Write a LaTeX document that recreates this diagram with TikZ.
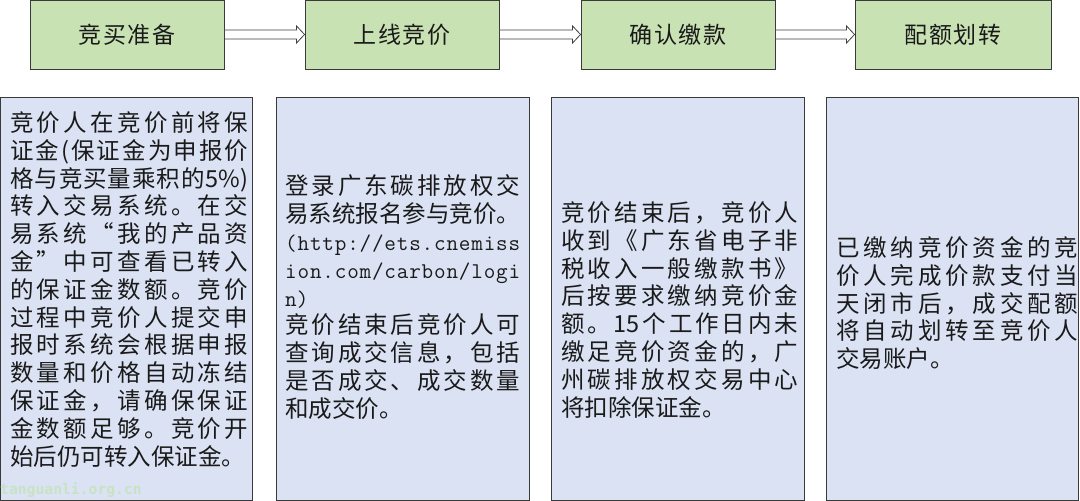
\documentclass[tikz,border=0pt]{standalone}
\usepackage{fontspec}
\setmainfont{Noto Sans CJK SC}
\newfontfamily\cjkT[LetterSpace=8]{Noto Sans CJK SC}
\newfontfamily\wmfont{DejaVu Sans Mono}
\usetikzlibrary{calc}
\definecolor{greenc}{HTML}{C9E2B4}
\definecolor{bluec}{HTML}{DAE2F3}
\definecolor{bordc}{HTML}{3A3A3A}
\definecolor{arrc}{HTML}{404040}
\definecolor{txtc}{HTML}{1A1A1A}
\definecolor{wmc}{HTML}{C8E2C4}
\newskip\spreadskip \spreadskip=0pt plus 1fil minus 1fil
\def\spreadfirst#1{#1\spreadrest}
\def\spreadrest#1{\ifx\relax#1\else\hskip\spreadskip #1\expandafter\spreadrest\fi}
\def\fl#1#2{\hbox to #1{\expandafter\spreadfirst#2\relax}}
\newcommand\blockarr[2]{%
  \draw[blockarrow] ($(#1.east)+(0,-4.5)$) -- ($(#2.west)+(-8,-4.5)$)
    -- ($(#2.west)+(-8,-8.5)$) -- (#2.west) -- ($(#2.west)+(-8,8.5)$)
    -- ($(#2.west)+(-8,4.5)$) -- ($(#1.east)+(0,4.5)$) -- cycle;}
\tikzset{
  titlebox/.style={draw=bordc, fill=greenc, line width=0.9pt, minimum width=194pt,
    minimum height=69pt, inner sep=0pt, text=txtc, font=\cjkT\fontsize{23}{26}\selectfont},
  panel/.style={draw=bordc, fill=bluec, line width=0.9pt, minimum height=403pt, inner sep=0pt},
  txtline/.style={anchor=base west, inner sep=0pt, text=txtc, font=\fontsize{23.5}{27.8}\selectfont},
  fU/.style={font=\ttfamily\fontsize{22.5}{27.8}\selectfont},
  blockarrow/.style={draw=arrc, fill=white, line width=0.8pt, line join=miter}
}
\begin{document}
\begin{tikzpicture}[x=1pt,y=1pt]
\useasboundingbox (0,0) rectangle (1080,501);
\fill[white] (0,0) rectangle (1080,501);
% title boxes
\node[titlebox] (t1) at (127,466.5) {竞买准备};
\node[titlebox] (t2) at (402,466.5) {上线竞价};
\node[titlebox] (t3) at (678,466.5) {确认缴款};
\node[titlebox, minimum width=196pt] (t4) at (953,466.5) {配额划转};
\blockarr{t1}{t2}
\blockarr{t2}{t3}
\blockarr{t3}{t4}
% panels
\node[panel, minimum width=252pt] (p1) at (126,202.5) {};
\node[panel, minimum width=253pt] (p2) at (402.5,202.5) {};
\node[panel, minimum width=253pt] (p3) at (677.5,202.5) {};
\node[panel, minimum width=252pt] (p4) at (952,202.5) {};
% panel 1 text
\foreach \t [count=\i from 0] in {竞价人在竞价前将保, 证金(保证金为申报价, 格与竞买量乘积的{5\%)}, 转入交易系统。在交, 易系统“我的产品资, 金”中可查看已转入, 的保证金数额。竞价, 过程中竞价人提交申, 报时系统会根据申报, 数量和价格自动冻结, 保证金，请确保保证, 金数额足够。竞价开}
  \node[txtline] (a\i) at (10,369.5-\i*27.8) {\fl{238pt}{\t}};
\node[txtline] (a12) at (10,369.5-12*27.8) {始后仍可转入保证金。};
% panel 2 text
\node[txtline] (b0) at (285,306) {\fl{235pt}{登录广东碳排放权交}};
\node[txtline] (b1) at (285,306-27.8) {易系统报名参与竞价。};
\node[txtline, fU] (b2) at (285,306-2*27.8) {\fl{235pt}{(http://ets.cnemiss}};
\node[txtline, fU] (b3) at (285,306-3*27.8) {\fl{235pt}{ion.com/carbon/logi}};
\node[txtline, fU] (b4) at (285,306-4*27.8) {n)};
\node[txtline] (b5) at (285,306-5*27.8) {\fl{235pt}{竞价结束后竞价人可}};
\node[txtline] (b6) at (285,306-6*27.8) {\fl{235pt}{查询成交信息，包括}};
\node[txtline] (b7) at (285,306-7*27.8) {\fl{235pt}{是否成交、成交数量}};
\node[txtline] (b8) at (285,306-8*27.8) {和成交价。};
% panel 3 text
\foreach \t [count=\i from 0] in {竞价结束后，竞价人, 收到《广东省电子非, 税收入一般缴款书》, 后按要求缴纳竞价金, 额。{15}个工作日内未, 缴足竞价资金的，广, 州碳排放权交易中心}
  \node[txtline] (c\i) at (561,279.5-\i*27.8) {\fl{237pt}{\t}};
\node[txtline] (c7) at (561,279.5-7*27.8) {将扣除保证金。};
% panel 4 text
\foreach \t [count=\i from 0] in {已缴纳竞价资金的竞, 价人完成价款支付当, 天闭市后，成交配额, 将自动划转至竞价人}
  \node[txtline] (d\i) at (836,244.5-\i*27.8) {\fl{242pt}{\t}};
\node[txtline] (d4) at (836,244.5-4*27.8) {交易账户。};
% watermark
\node[anchor=base west, inner sep=0pt, text=wmc, font=\wmfont\bfseries\fontsize{14.7}{16}\selectfont] (wm) at (0,6) {tanguanli.org.cn};
\end{tikzpicture}
\end{document}
